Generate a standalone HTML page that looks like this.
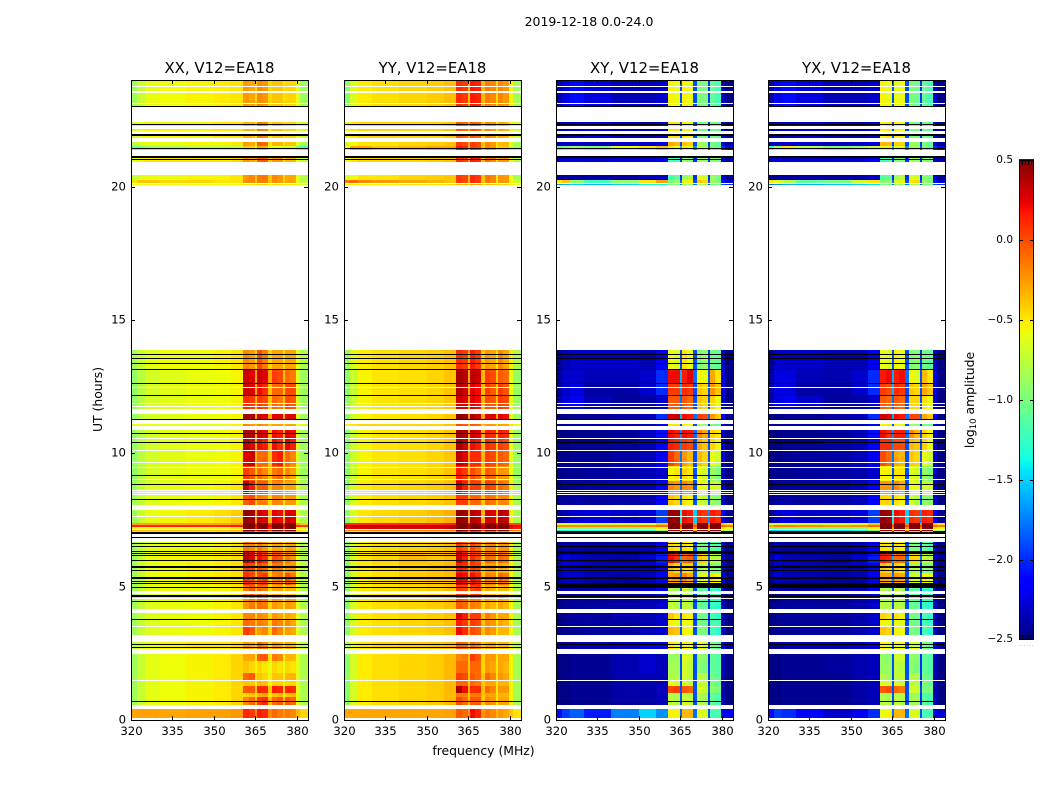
<!DOCTYPE html>
<html lang="en">
<head>
<meta charset="utf-8">
<title>2019-12-18 0.0-24.0</title>
<style>
html,body{margin:0;padding:0;background:#fff;width:1050px;height:800px;overflow:hidden}
svg{display:block}
text{font-family:"DejaVu Sans","Liberation Sans",sans-serif;fill:#000}
</style>
</head>
<body>
<svg id="fig" xmlns="http://www.w3.org/2000/svg" width="1050" height="800" viewBox="0 0 1050 800">
<rect x="0" y="0" width="1050" height="800" fill="#fff"/>
<text x="589" y="26" font-size="12.5" text-anchor="middle">2019-12-18 0.0-24.0</text>
<text x="483.5" y="755" font-size="12.4" text-anchor="middle">frequency (MHz)</text>
<text transform="translate(102,399.5) rotate(-90)" font-size="12.4" text-anchor="middle">UT (hours)</text>
<text transform="translate(974,400) rotate(-90)" font-size="12.4" text-anchor="middle">log<tspan font-size="8.5" dy="2">10</tspan><tspan dy="-2"> amplitude</tspan></text>
<g id="panels"></g>
<g id="cbar"></g>
</svg>
<script>
const panelTitles = ["XX, V12=EA18", "YY, V12=EA18", "XY, V12=EA18", "YX, V12=EA18"];
const xTicks = [320, 335, 350, 365, 380];
const yTicks = [0, 5, 10, 15, 20];
const cbarTicks = [0.5, 0.0, -0.5, -1.0, -1.5, -2.0, -2.5];

const freqEdges = [320,322,325,330,340,350,356,360.4,362.6,364.8,365.5,367.5,369.5,370.9,372.9,374.9,375.6,377.6,379.6,381,384];
const rowStart = [.09,.58,.88,1.03,1.29,1.48,1.78,2.23,2.68,3.17,3.5,3.8,4.1,4.66,5.08,5.53,5.9,6.35,6.84,7.07,7.15,7.25,7.31,7.37,8.07,8.45,8.97,9.53,10.13,10.54,11.03,11.25,11.67,12.2,12.63,13.16,20.05,20.15,20.25,20.93,21.38,21.53,21.82,23.0];
const rowEnd = [.43,.88,1.03,1.29,1.48,1.78,2.23,2.49,2.94,3.5,3.8,4.1,4.66,5.08,5.53,5.9,6.35,6.69,7.07,7.15,7.25,7.31,7.37,7.89,8.45,8.97,9.53,10.13,10.54,10.87,11.1,11.49,12.2,12.63,13.16,13.88,20.15,20.25,20.44,21.15,21.53,21.67,22.43,24];

const xxValues = [
[-.3,-.28,-.28,-.3,-.28,-.28,-.25,.12,.05,-.2,.15,.1,-.2,-.1,-.15,-.25,-.15,-.2,-.35,-.45],
[-.88,-.72,-.62,-.58,-.55,-.52,-.45,-.2,-.1,-.35,.05,.1,-.35,-.1,-.05,-.4,-.05,-.1,-.62,-.82],
[-.88,-.72,-.62,-.58,-.55,-.52,-.45,-.45,-.4,-.5,-.35,-.3,-.5,-.4,-.35,-.55,-.4,-.35,-.62,-.82],
[-.88,-.72,-.62,-.58,-.55,-.52,-.45,-.05,-.05,-.4,.12,.1,-.4,.15,.12,-.45,.12,.1,-.62,-.82],
[-.88,-.72,-.62,-.58,-.55,-.52,-.45,-.4,-.4,-.55,-.35,-.4,-.55,-.45,-.45,-.55,-.45,-.45,-.62,-.82],
[-.88,-.72,-.62,-.58,-.55,-.52,-.45,-.1,-.05,-.45,-.4,-.45,-.55,-.4,-.4,-.55,-.35,-.35,-.62,-.82],
[-.88,-.72,-.62,-.58,-.55,-.52,-.45,-.4,-.45,-.55,-.45,-.5,-.6,-.45,-.5,-.6,-.45,-.5,-.62,-.82],
[-.88,-.72,-.62,-.58,-.55,-.52,-.45,-.3,-.3,-.5,-.05,-.05,-.5,-.15,-.2,-.55,-.35,-.35,-.62,-.82],
[-.8,-.68,-.6,-.55,-.5,-.5,-.45,-.25,-.3,-.45,-.1,-.2,-.45,-.25,-.3,-.5,-.3,-.35,-.6,-.78],
[-.88,-.74,-.64,-.6,-.58,-.55,-.5,.05,-.05,-.4,-.25,-.2,-.45,-.1,-.2,-.5,-.25,-.3,-.62,-.82],
[-.88,-.74,-.64,-.6,-.58,-.55,-.5,-.1,-.15,-.4,-.15,-.2,-.45,-.15,-.2,-.5,-.2,-.3,-.62,-.82],
[-.88,-.74,-.64,-.6,-.58,-.55,-.5,-.2,-.2,-.45,-.2,-.25,-.45,-.25,-.3,-.5,-.3,-.35,-.62,-.82],
[-.88,-.74,-.64,-.6,-.58,-.55,-.5,-.25,-.15,-.4,-.1,-.15,-.45,-.25,-.3,-.5,-.25,-.3,-.62,-.82],
[-.88,-.74,-.64,-.6,-.58,-.55,-.5,-.15,-.05,-.35,-.1,-.15,-.45,-.3,-.3,-.5,-.35,-.35,-.62,-.82],
[-.88,-.72,-.6,-.58,-.55,-.52,-.48,.1,0,-.35,0,.05,-.4,-.2,-.15,-.45,0,-.15,-.62,-.82],
[-.88,-.72,-.6,-.58,-.55,-.52,-.48,.05,0,-.35,0,-.1,-.4,-.15,-.15,-.45,-.25,-.25,-.62,-.82],
[-.88,-.72,-.6,-.56,-.55,-.52,-.48,.35,.25,-.3,.2,.1,-.35,0,-.05,-.4,-.15,-.25,-.62,-.82],
[-.88,-.74,-.64,-.6,-.58,-.55,-.5,-.15,-.2,-.4,-.15,-.25,-.45,-.3,-.3,-.5,-.3,-.3,-.62,-.82],
[-.88,-.74,-.64,-.6,-.58,-.55,-.5,.05,0,-.4,-.1,-.1,-.45,-.2,-.2,-.45,-.15,-.2,-.62,-.82],
[-.35,-.35,-.35,-.35,-.35,-.35,-.3,.5,.5,.1,.5,.5,.1,.5,.5,.1,.5,.5,-.4,-.5],
[-.65,-.65,-.65,-.65,-.65,-.6,-.5,.5,.5,.1,.5,.5,.1,.5,.5,.1,.5,.5,-.6,-.7],
[.12,.12,.12,.12,.12,.12,.15,.5,.5,.2,.5,.5,.2,.5,.5,.2,.5,.5,.1,.05],
[-.3,-.3,-.3,-.3,-.3,-.3,-.25,.5,.5,.1,.5,.5,.1,.5,.5,.1,.5,.5,-.3,-.4],
[-.88,-.72,-.6,-.56,-.52,-.48,-.42,.45,.4,-.3,.3,.25,-.35,.25,.2,-.35,.3,.25,-.62,-.82],
[-.88,-.74,-.64,-.6,-.58,-.55,-.5,-.05,0,-.4,-.15,-.2,-.45,-.2,-.2,-.5,-.25,-.25,-.62,-.82],
[-.88,-.74,-.64,-.6,-.58,-.55,-.5,.35,.15,-.35,-.05,-.05,-.4,-.2,-.2,-.45,-.3,-.3,-.62,-.82],
[-.92,-.78,-.68,-.63,-.6,-.58,-.55,.05,-.05,-.4,-.1,-.2,-.4,-.15,-.1,-.45,-.2,-.3,-.66,-.88],
[-.92,-.78,-.68,-.63,-.6,-.58,-.55,.25,.3,-.35,-.1,-.1,-.4,.1,.15,-.4,-.1,-.2,-.66,-.88],
[-.92,-.78,-.68,-.63,-.6,-.58,-.55,.35,.25,-.3,.2,.15,-.35,.2,.1,-.4,.25,.15,-.66,-.88],
[-.92,-.78,-.68,-.63,-.6,-.58,-.55,.4,.35,-.3,.3,.25,-.35,.2,.15,-.35,.25,.2,-.66,-.88],
[-.6,-.6,-.6,-.6,-.6,-.6,-.55,-.2,-.25,-.4,-.2,-.25,-.4,-.3,-.3,-.5,-.3,-.3,-.6,-.65],
[-.92,-.78,-.68,-.63,-.6,-.58,-.55,.42,.38,-.3,.3,.25,-.3,.25,.25,-.35,.25,.25,-.66,-.88],
[-.92,-.78,-.68,-.63,-.6,-.58,-.55,.1,.05,-.35,.05,0,-.4,-.1,-.15,-.4,0,-.05,-.66,-.88],
[-.92,-.78,-.68,-.63,-.6,-.58,-.55,.3,.25,-.3,.2,.1,-.4,-.1,-.1,-.4,0,0,-.66,-.88],
[-.92,-.78,-.68,-.63,-.6,-.58,-.55,.3,.25,-.3,.3,.25,-.3,.05,0,-.4,-.1,-.15,-.66,-.88],
[-.85,-.72,-.62,-.58,-.58,-.55,-.5,-.2,-.25,-.45,0,-.15,-.45,-.3,-.3,-.5,-.3,-.3,-.62,-.82],
[-.6,-.6,-.6,-.6,-.58,-.58,-.55,-.5,-.5,-.55,-.45,-.45,-.55,-.5,-.5,-.55,-.5,-.5,-.6,-.65],
[-.5,-.4,-.4,-.45,-.45,-.5,-.5,-.2,-.2,-.4,-.15,-.15,-.4,-.2,-.25,-.45,-.3,-.3,-.6,-.75],
[-.75,-.65,-.6,-.6,-.55,-.55,-.5,-.25,-.2,-.4,-.15,-.15,-.4,-.2,-.25,-.45,-.3,-.3,-.62,-.8],
[-.6,-.55,-.5,-.5,-.5,-.5,-.45,-.25,-.3,-.4,-.05,-.05,-.4,-.25,-.25,-.5,-.35,-.35,-.6,-.75],
[-1.1,-1,-.9,-.85,-.8,-.8,-.8,-.4,-.45,-.6,-.3,-.35,-.6,-.6,-.6,-.7,-.7,-.7,-1,-1.2],
[-.75,-.65,-.6,-.6,-.55,-.55,-.5,-.25,-.3,-.5,-.05,-.1,-.5,-.35,-.35,-.5,-.4,-.4,-.62,-.8],
[-.7,-.6,-.55,-.55,-.55,-.5,-.5,-.35,-.35,-.5,-.15,-.2,-.5,-.4,-.4,-.5,-.45,-.45,-.6,-.72],
[-.88,-.72,-.6,-.58,-.55,-.52,-.5,-.25,-.3,-.45,-.2,-.25,-.45,-.4,-.4,-.5,-.45,-.45,-.62,-.88]
];

const yyValues = [
[-.3,-.3,-.3,-.3,-.3,-.3,-.28,-.05,-.1,-.25,.2,.12,-.25,-.15,-.2,-.35,-.25,-.3,-.4,-.5],
[-.95,-.68,-.52,-.48,-.45,-.42,-.36,0,-.1,-.35,-.05,-.05,-.4,-.2,-.25,-.5,-.3,-.3,-.55,-.85],
[-.95,-.68,-.52,-.48,-.45,-.42,-.36,-.15,-.2,-.4,-.15,-.15,-.4,-.3,-.3,-.5,-.35,-.35,-.55,-.85],
[-.95,-.68,-.52,-.48,-.45,-.42,-.36,.4,.2,-.35,.1,.1,-.4,-.1,-.2,-.5,-.25,-.25,-.55,-.85],
[-.95,-.68,-.52,-.48,-.45,-.42,-.36,-.1,-.1,-.4,-.1,-.15,-.4,-.3,-.3,-.5,-.35,-.35,-.55,-.85],
[-.95,-.68,-.52,-.48,-.45,-.42,-.36,.05,0,-.4,-.05,-.1,-.4,-.1,-.2,-.5,-.25,-.3,-.55,-.85],
[-.95,-.68,-.52,-.48,-.45,-.42,-.36,-.1,-.1,-.4,-.1,-.1,-.45,-.25,-.3,-.5,-.3,-.35,-.55,-.85],
[-.95,-.68,-.52,-.48,-.45,-.42,-.36,-.2,-.15,-.4,.05,-.05,-.45,-.25,-.25,-.5,-.3,-.3,-.55,-.85],
[-.85,-.62,-.5,-.45,-.42,-.4,-.36,-.05,-.1,-.4,-.1,-.2,-.4,-.3,-.3,-.5,-.35,-.35,-.55,-.8],
[-.95,-.68,-.52,-.48,-.45,-.42,-.38,.2,.1,-.3,0,-.05,-.4,-.2,-.25,-.5,-.35,-.35,-.55,-.85],
[-.95,-.68,-.52,-.48,-.45,-.42,-.38,.15,.05,-.35,.05,0,-.4,-.2,-.25,-.5,-.3,-.35,-.55,-.85],
[-.95,-.68,-.52,-.48,-.45,-.42,-.38,.25,.15,-.3,.05,.05,-.4,-.15,-.25,-.5,-.3,-.3,-.55,-.85],
[-.95,-.68,-.52,-.48,-.45,-.42,-.38,-.05,-.1,-.4,-.15,-.2,-.45,-.3,-.35,-.5,-.3,-.35,-.55,-.85],
[-.95,-.68,-.52,-.48,-.45,-.42,-.38,.05,0,-.4,0,.05,-.4,-.3,-.35,-.5,-.35,-.35,-.55,-.85],
[-.95,-.68,-.52,-.48,-.42,-.4,-.36,.25,.2,-.3,.2,.1,-.4,-.15,-.2,-.5,-.1,-.15,-.55,-.85],
[-.95,-.68,-.52,-.48,-.42,-.4,-.36,.15,.1,-.3,.05,0,-.4,-.25,-.25,-.5,-.3,-.35,-.55,-.85],
[-.95,-.66,-.5,-.45,-.36,-.4,-.36,.3,.15,-.3,.1,0,-.4,-.1,-.15,-.45,-.1,-.15,-.55,-.85],
[-.95,-.68,-.52,-.48,-.45,-.42,-.38,.05,-.05,-.35,0,-.1,-.4,-.2,-.2,-.5,-.25,-.25,-.55,-.85],
[-.95,-.68,-.52,-.48,-.45,-.42,-.38,.1,0,-.35,.05,-.05,-.4,-.1,-.15,-.45,-.2,-.25,-.55,-.85],
[-.2,-.2,-.2,-.2,-.2,-.18,-.15,.5,.5,.1,.5,.5,.1,.5,.5,.1,.5,.5,-.1,-.2],
[.25,.25,.25,.25,.25,.25,.3,.5,.5,.3,.5,.5,.3,.5,.5,.3,.5,.5,.2,.15],
[.3,.3,.3,.3,.3,.3,.35,.5,.5,.35,.5,.5,.35,.5,.5,.35,.5,.5,.25,.2],
[.1,.1,.1,.1,.1,.1,.15,.5,.5,.2,.5,.5,.2,.5,.5,.2,.5,.5,.05,0],
[-.95,-.68,-.5,-.46,-.42,-.38,-.32,.45,.42,-.3,.35,.3,-.35,.3,.25,-.35,.35,.3,-.55,-.85],
[-.95,-.68,-.52,-.48,-.45,-.42,-.38,.05,.05,-.35,-.1,-.1,-.4,-.1,-.15,-.4,-.2,-.2,-.55,-.85],
[-.95,-.68,-.52,-.48,-.45,-.42,-.38,.3,.15,-.3,.05,.05,-.35,.05,0,-.4,-.1,-.15,-.55,-.85],
[-.95,-.72,-.55,-.5,-.48,-.45,-.4,.15,.05,-.35,0,-.1,-.4,-.05,-.1,-.4,-.25,-.25,-.6,-.9],
[-.95,-.72,-.55,-.5,-.48,-.45,-.4,.35,.25,-.3,.1,.1,-.35,.05,0,-.4,-.05,-.1,-.6,-.9],
[-.95,-.72,-.55,-.5,-.48,-.45,-.4,.4,.3,-.3,.2,.15,-.35,.1,.05,-.4,.05,0,-.6,-.9],
[-.95,-.72,-.55,-.5,-.48,-.45,-.4,.42,.38,-.3,.3,.25,-.3,.15,.1,-.4,.15,.1,-.6,-.9],
[-.55,-.5,-.45,-.45,-.45,-.45,-.4,0,-.05,-.4,-.05,-.1,-.4,-.25,-.25,-.45,-.3,-.3,-.5,-.6],
[-.95,-.72,-.55,-.5,-.48,-.45,-.4,.48,.42,-.25,.38,.3,-.3,.25,.25,-.3,.25,.2,-.6,-.9],
[-.95,-.72,-.55,-.5,-.48,-.45,-.4,.3,.25,-.3,.25,.2,-.35,0,-.05,-.4,.05,0,-.6,-.9],
[-.95,-.72,-.55,-.5,-.48,-.45,-.4,.38,.3,-.3,.25,.2,-.35,.05,-.05,-.4,.05,-.05,-.6,-.9],
[-.95,-.72,-.55,-.5,-.48,-.45,-.4,.4,.35,-.3,.35,.3,-.35,.05,0,-.4,-.05,-.1,-.6,-.9],
[-.9,-.66,-.52,-.48,-.45,-.42,-.38,.1,.05,-.35,.15,.05,-.4,-.25,-.3,-.5,-.2,-.3,-.55,-.82],
[-.55,-.55,-.55,-.55,-.5,-.5,-.45,-.35,-.35,-.45,-.3,-.3,-.45,-.4,-.4,-.5,-.45,-.45,-.55,-.6],
[-.15,-.1,-.2,-.25,-.3,-.35,-.4,.05,0,-.35,.1,.05,-.4,-.15,-.2,-.5,-.25,-.25,-.55,-.7],
[-.7,-.6,-.5,-.5,-.45,-.42,-.4,.05,0,-.35,.1,.05,-.4,-.15,-.2,-.5,-.25,-.25,-.6,-.85],
[-.6,-.5,-.45,-.45,-.45,-.42,-.4,.1,.05,-.35,.15,.1,-.4,-.1,-.2,-.45,-.25,-.25,-.6,-.8],
[-.6,-.3,-.3,-.4,-.35,-.3,-.3,.15,.1,-.35,.05,0,-.4,-.2,-.25,-.5,-.4,-.4,-.7,-.9],
[-.7,-.6,-.5,-.5,-.45,-.42,-.4,.05,0,-.35,.05,0,-.4,-.2,-.25,-.5,-.35,-.35,-.65,-.85],
[-.55,-.5,-.45,-.45,-.45,-.45,-.4,-.05,-.1,-.35,-.05,-.1,-.4,-.2,-.25,-.5,-.3,-.35,-.55,-.7],
[-.95,-.66,-.52,-.48,-.45,-.42,-.38,.1,.05,-.35,.15,.12,-.35,-.15,-.2,-.45,-.2,-.25,-.55,-.85]
];

const xyValues = [
[-2.1,-1.95,-1.85,-2.05,-1.75,-1.5,-1.7,-.55,-.55,-1.8,-.35,-.35,-1.8,-.65,-.65,-1.9,-1.2,-1.2,-2.2,-2.2],
[-2.48,-2.48,-2.45,-2.45,-2.4,-2.4,-2.35,-.75,-.8,-1.9,-.7,-.75,-1.9,-.8,-.85,-2,-1.1,-1.2,-2.35,-2.48],
[-2.48,-2.48,-2.45,-2.45,-2.4,-2.4,-2.35,-.8,-.85,-1.9,-.75,-.8,-1.9,-.85,-.9,-2,-1.1,-1.2,-2.35,-2.48],
[-2.48,-2.48,-2.45,-2.45,-2.4,-2.38,-2.35,0,.05,-1.9,-.05,-.1,-1.9,-.65,-.7,-1.9,-.95,-1,-2.35,-2.48],
[-2.48,-2.48,-2.45,-2.45,-2.4,-2.38,-2.35,-.6,-.7,-1.9,-.7,-.75,-1.9,-.7,-.75,-2,-1,-1.1,-2.35,-2.48],
[-2.48,-2.48,-2.45,-2.45,-2.38,-2.35,-2.35,-.8,-.8,-1.9,-.7,-.75,-1.9,-.75,-.8,-2,-1.05,-1.1,-2.35,-2.48],
[-2.48,-2.48,-2.45,-2.45,-2.38,-2.3,-2.35,-.85,-.85,-1.9,-.7,-.75,-1.9,-.95,-1,-2,-1.1,-1.15,-2.35,-2.48],
[-2.48,-2.48,-2.45,-2.45,-2.38,-2.3,-2.35,-.9,-.9,-1.9,-.65,-.7,-1.9,-.9,-.95,-2,-1.1,-1.15,-2.35,-2.48],
[-2.4,-2.4,-2.35,-2.35,-2.3,-2.25,-2.2,-.5,-.6,-1.9,-.55,-.6,-1.9,-.6,-.7,-2,-1,-1.1,-2.2,-2.4],
[-2.48,-2.45,-2.45,-2.42,-2.4,-2.35,-2.3,-.35,-.4,-1.9,-.55,-.6,-1.9,-1,-1,-2,-1.2,-1.3,-2.35,-2.48],
[-2.48,-2.45,-2.42,-2.4,-2.4,-2.35,-2.3,-.55,-.6,-1.8,-.6,-.6,-1.9,-1,-1.05,-2,-1.2,-1.2,-2.35,-2.48],
[-2.48,-2.45,-2.42,-2.42,-2.35,-2.35,-2.3,-.4,-.5,-1.9,-.5,-.55,-1.9,-1,-1.05,-2,-1.2,-1.3,-2.35,-2.48],
[-2.48,-2.45,-2.42,-2.42,-2.4,-2.35,-2.3,-.75,-.8,-1.9,-.75,-.8,-1.9,-1.05,-1.1,-2,-1.25,-1.3,-2.35,-2.48],
[-2.45,-2.4,-2.4,-2.4,-2.35,-2.3,-2.2,-.8,-.85,-1.9,-.7,-.85,-1.9,-1.1,-1.1,-2,-1.2,-1.3,-2.35,-2.48],
[-2.42,-2.3,-2.3,-2.38,-2.4,-2.35,-2.2,-.3,-.25,-1.8,-.2,-.3,-1.9,-.7,-.6,-1.9,-.5,-.6,-2.3,-2.45],
[-2.42,-2.3,-2.3,-2.38,-2.35,-2.35,-2.2,-.35,-.45,-1.9,-.45,-.45,-1.9,-.9,-.8,-2,-1,-1,-2.3,-2.45],
[-2.4,-2.25,-2.3,-2.38,-2.4,-2.3,-2.05,.2,.1,-1.6,-.1,-.05,-1.8,-.4,-.45,-1.8,-.75,-.8,-2.3,-2.45],
[-2.45,-2.4,-2.4,-2.42,-2.4,-2.35,-2.2,-.45,-.5,-1.9,-.5,-.55,-1.9,-1,-1,-2,-1.1,-1.2,-2.35,-2.45],
[-2.45,-2.42,-2.42,-2.42,-2.4,-2.38,-2.3,-.5,-.5,-1.9,-.6,-.6,-1.9,-1,-1,-2,-1.1,-1.1,-2.35,-2.45],
[-1.4,-1.4,-1.4,-1.4,-1.4,-1.3,-.9,.5,.5,-.3,.5,.5,-.3,.5,.5,-.3,.5,.5,-.8,-.9],
[-1,-1,-1,-1,-1,-.9,-.6,.5,.5,-.2,.5,.5,-.2,.5,.5,-.2,.5,.5,-.5,-.6],
[-.2,-.2,-.2,-.2,-.2,-.15,-.1,.5,.5,0,.5,.5,0,.5,.5,0,.5,.5,-.1,-.15],
[-.65,-.65,-.65,-.65,-.65,-.6,-.4,.5,.5,-.2,.5,.5,-.2,.5,.5,-.2,.5,.5,-.4,-.5],
[-2.45,-2.35,-2.28,-2.25,-2.3,-2.25,-1.95,.45,.42,-1.4,.2,.15,-1.5,.1,.05,-1.7,.15,.1,-2.2,-2.45],
[-2.45,-2.42,-2.4,-2.42,-2.4,-2.35,-2.15,-.4,-.45,-1.8,-.5,-.55,-1.9,-.7,-.75,-1.9,-.9,-.95,-2.3,-2.48],
[-2.48,-2.45,-2.42,-2.42,-2.4,-2.35,-2.15,-.2,-.25,-1.8,-.2,-.25,-1.9,-.55,-.6,-1.9,-.65,-.7,-2.3,-2.48],
[-2.48,-2.45,-2.45,-2.42,-2.4,-2.35,-2.3,-.55,-.5,-1.9,-.45,-.5,-1.9,-.6,-.7,-1.9,-.9,-1,-2.35,-2.48],
[-2.48,-2.48,-2.45,-2.45,-2.4,-2.35,-2.2,.05,-.1,-1.8,-.25,-.35,-1.9,-.35,-.45,-1.9,-.6,-.7,-2.3,-2.48],
[-2.48,-2.48,-2.45,-2.45,-2.42,-2.35,-2.15,.15,.1,-1.7,.05,0,-1.9,-.3,-.4,-1.9,-.45,-.55,-2.3,-2.48],
[-2.48,-2.48,-2.45,-2.45,-2.42,-2.3,-2.1,.2,.15,-1.7,.2,.15,-1.8,-.2,-.3,-1.9,-.45,-.5,-2.3,-2.48],
[-2.4,-2.4,-2.4,-2.35,-2.35,-2.3,-2.15,-.5,-.5,-1.9,-.55,-.6,-1.9,-.8,-.9,-2,-1,-1.1,-2.25,-2.4],
[-2.48,-2.48,-2.45,-2.45,-2.4,-2.35,-2,.3,.3,-1.6,.2,.15,-1.8,.05,0,-1.8,-.25,-.4,-2.2,-2.48],
[-2.4,-2.25,-2.2,-2.35,-2.42,-2.4,-2.3,-.05,-.05,-1.8,-.05,-.1,-1.9,-.4,-.45,-1.9,-.45,-.6,-2.3,-2.48],
[-2.42,-2.3,-2.25,-2.4,-2.4,-2.3,-2,.05,.05,-1.6,.1,.05,-1.9,-.4,-.45,-1.9,-.25,-.4,-2.25,-2.48],
[-2.45,-2.3,-2.3,-2.35,-2.35,-2.3,-2,.2,.2,-1.6,.15,.25,-1.8,-.55,-.6,-1.9,-.3,-.5,-2.25,-2.48],
[-2.45,-2.35,-2.3,-2.3,-2.3,-2.35,-2.2,-.6,-.65,-1.9,-.5,-.6,-1.9,-1,-.9,-2,-1.05,-1.1,-2.3,-2.48],
[-1.7,-1.6,-1.5,-1.6,-1.5,-1.4,-1.4,-1,-1,-1.8,-.9,-.9,-1.8,-.8,-.85,-1.9,-1,-1,-1.9,-2],
[-.5,-.4,-.9,-1.2,-.9,-.5,-.3,-1,-.9,-1.8,-.6,-.55,-1.9,-.4,-.45,-1.9,-.9,-1,-2.1,-2.3],
[-2.45,-2.42,-2.4,-2.4,-2.4,-2.35,-2.3,-1.2,-1.1,-2,-.9,-.8,-2,-.6,-.7,-2,-.9,-1,-2.3,-2.45],
[-2.3,-2.25,-2.25,-2.3,-2.25,-2.25,-2.2,-1.2,-1.2,-2,-.9,-1,-2,-.85,-.9,-2,-.95,-1,-2.3,-2.4],
[-1.2,-1,-.9,-1,-.6,-.5,-.4,-.5,-.6,-1.6,-.55,-.65,-1.7,-.8,-.85,-1.9,-1,-1.1,-2,-2.1],
[-2.4,-2.3,-2.3,-2.35,-2.3,-2.3,-2.25,-.3,-.35,-1.9,-.4,-.45,-1.9,-.85,-.9,-2,-1,-1.1,-2.3,-2.45],
[-2.42,-2.38,-2.3,-2.25,-2.35,-2.4,-2.3,-.5,-.5,-1.9,-.55,-.6,-1.9,-1,-1,-2,-1.05,-1.1,-2.3,-2.45],
[-2.4,-2.25,-2.1,-2.25,-2.35,-2.35,-2.3,-.55,-.6,-1.9,-.55,-.6,-1.9,-1,-1,-2,-1.1,-1.2,-2.3,-2.48]
];

const yxValues = [
[-2.1,-1.95,-2,-2.15,-2.3,-2.2,-2,-.6,-.55,-1.8,-.35,-.35,-1.8,-.7,-.65,-1.9,-1.2,-1.2,-2.2,-2.3],
[-2.48,-2.48,-2.45,-2.45,-2.45,-2.4,-2.35,-.8,-.8,-1.9,-.75,-.8,-1.9,-.85,-.85,-2,-1.1,-1.2,-2.35,-2.48],
[-2.48,-2.48,-2.45,-2.45,-2.45,-2.4,-2.35,-.85,-.85,-1.9,-.8,-.8,-1.9,-.9,-.9,-2,-1.15,-1.2,-2.35,-2.48],
[-2.48,-2.48,-2.45,-2.45,-2.45,-2.4,-2.35,-.05,0,-1.9,-.1,-.15,-1.9,-.7,-.7,-1.9,-1,-1,-2.35,-2.48],
[-2.48,-2.48,-2.45,-2.45,-2.45,-2.4,-2.35,-.65,-.7,-1.9,-.7,-.75,-1.9,-.75,-.8,-2,-1,-1.1,-2.35,-2.48],
[-2.48,-2.48,-2.45,-2.45,-2.45,-2.38,-2.35,-.8,-.85,-1.9,-.75,-.75,-1.9,-.8,-.8,-2,-1.05,-1.1,-2.35,-2.48],
[-2.48,-2.48,-2.45,-2.45,-2.42,-2.38,-2.35,-.9,-.9,-1.9,-.75,-.8,-1.9,-.95,-1,-2,-1.1,-1.15,-2.35,-2.48],
[-2.48,-2.48,-2.45,-2.45,-2.42,-2.38,-2.35,-.9,-.95,-1.9,-.7,-.7,-1.9,-.9,-.95,-2,-1.1,-1.15,-2.35,-2.48],
[-2.4,-2.4,-2.35,-2.35,-2.35,-2.3,-2.2,-.55,-.6,-1.9,-.6,-.6,-1.9,-.65,-.7,-2,-1,-1.1,-2.2,-2.4],
[-2.48,-2.45,-2.45,-2.42,-2.42,-2.38,-2.3,-.4,-.45,-1.9,-.55,-.6,-1.9,-1,-1.05,-2,-1.2,-1.3,-2.35,-2.48],
[-2.48,-2.45,-2.42,-2.42,-2.42,-2.38,-2.3,-.55,-.6,-1.8,-.6,-.65,-1.9,-1,-1.05,-2,-1.2,-1.25,-2.35,-2.48],
[-2.48,-2.45,-2.42,-2.42,-2.4,-2.38,-2.3,-.45,-.5,-1.9,-.5,-.55,-1.9,-1,-1.05,-2,-1.2,-1.3,-2.35,-2.48],
[-2.48,-2.45,-2.42,-2.42,-2.42,-2.38,-2.3,-.8,-.8,-1.9,-.75,-.8,-1.9,-1.05,-1.1,-2,-1.25,-1.3,-2.35,-2.48],
[-2.45,-2.42,-2.4,-2.42,-2.4,-2.35,-2.2,-.8,-.85,-1.9,-.75,-.85,-1.9,-1.1,-1.1,-2,-1.25,-1.3,-2.35,-2.48],
[-2.42,-2.3,-2.35,-2.38,-2.42,-2.38,-2.2,-.3,-.3,-1.8,-.25,-.3,-1.9,-.7,-.65,-1.9,-.55,-.6,-2.3,-2.45],
[-2.42,-2.3,-2.35,-2.38,-2.38,-2.35,-2.2,-.4,-.45,-1.9,-.45,-.5,-1.9,-.9,-.85,-2,-1,-1,-2.3,-2.45],
[-2.4,-2.25,-2.35,-2.38,-2.42,-2.3,-2.05,.15,.1,-1.6,-.1,-.1,-1.8,-.45,-.45,-1.8,-.75,-.8,-2.3,-2.45],
[-2.45,-2.4,-2.42,-2.42,-2.42,-2.38,-2.2,-.5,-.5,-1.9,-.5,-.55,-1.9,-1,-1,-2,-1.1,-1.2,-2.35,-2.45],
[-2.45,-2.42,-2.42,-2.42,-2.42,-2.38,-2.3,-.5,-.55,-1.9,-.6,-.6,-1.9,-1,-1,-2,-1.1,-1.15,-2.35,-2.45],
[-1.5,-1.5,-1.45,-1.45,-1.45,-1.4,-1,.5,.5,-.3,.5,.5,-.3,.5,.5,-.3,.5,.5,-.8,-.9],
[-1.05,-1,-1,-1,-1,-.95,-.6,.5,.5,-.2,.5,.5,-.2,.5,.5,-.2,.5,.5,-.5,-.6],
[-.3,-.15,-.15,-.2,-.25,-.2,-.1,.5,.5,0,.5,.5,0,.5,.5,0,.5,.5,-.1,-.15],
[-.7,-.65,-.65,-.65,-.65,-.6,-.4,.5,.5,-.2,.5,.5,-.2,.5,.5,-.2,.5,.5,-.4,-.5],
[-2.45,-2.32,-2.25,-2.3,-2.3,-2.25,-1.95,.45,.4,-1.4,.2,.15,-1.5,.1,.05,-1.7,.15,.1,-2.2,-2.45],
[-2.45,-2.42,-2.4,-2.42,-2.4,-2.35,-2.15,-.45,-.45,-1.8,-.5,-.55,-1.9,-.7,-.8,-1.9,-.95,-.95,-2.3,-2.48],
[-2.48,-2.45,-2.42,-2.42,-2.42,-2.35,-2.15,-.25,-.25,-1.8,-.2,-.3,-1.9,-.6,-.6,-1.9,-.7,-.7,-2.3,-2.48],
[-2.48,-2.45,-2.45,-2.42,-2.4,-2.38,-2.3,-.55,-.55,-1.9,-.5,-.5,-1.9,-.65,-.7,-1.9,-.9,-1,-2.35,-2.48],
[-2.48,-2.48,-2.45,-2.42,-2.4,-2.35,-2.2,0,-.1,-1.8,-.3,-.35,-1.9,-.4,-.45,-1.9,-.6,-.7,-2.3,-2.48],
[-2.48,-2.48,-2.45,-2.45,-2.4,-2.35,-2.15,.1,.1,-1.7,0,0,-1.9,-.35,-.4,-1.9,-.45,-.6,-2.3,-2.48],
[-2.48,-2.48,-2.45,-2.45,-2.42,-2.35,-2.1,.2,.1,-1.7,.15,.15,-1.8,-.2,-.35,-1.9,-.45,-.55,-2.3,-2.48],
[-2.4,-2.4,-2.38,-2.38,-2.35,-2.3,-2.15,-.55,-.5,-1.9,-.55,-.6,-1.9,-.85,-.9,-2,-1,-1.1,-2.25,-2.4],
[-2.48,-2.48,-2.45,-2.45,-2.4,-2.35,-2,.3,.25,-1.6,.2,.15,-1.8,0,0,-1.8,-.3,-.4,-2.2,-2.48],
[-2.4,-2.25,-2.2,-2.3,-2.42,-2.4,-2.3,-.05,-.1,-1.8,-.05,-.1,-1.9,-.45,-.45,-1.9,-.5,-.6,-2.3,-2.48],
[-2.4,-2.25,-2.25,-2.4,-2.4,-2.3,-2,.05,0,-1.6,.1,.05,-1.9,-.4,-.45,-1.9,-.3,-.4,-2.25,-2.48],
[-2.42,-2.25,-2.25,-2.35,-2.38,-2.3,-2,.15,.2,-1.6,.15,.2,-1.8,-.55,-.65,-1.9,-.35,-.5,-2.25,-2.48],
[-2.45,-2.3,-2.3,-2.3,-2.35,-2.35,-2.2,-.6,-.65,-1.9,-.55,-.6,-1.9,-1,-.95,-2,-1.05,-1.1,-2.3,-2.48],
[-1.8,-1.7,-1.6,-1.6,-1.55,-1.5,-1.45,-1,-1,-1.8,-.95,-.9,-1.8,-.85,-.85,-1.9,-1,-1,-1.9,-2],
[-.5,-.6,-.8,-1.1,-1,-.7,-.5,-1,-.9,-1.8,-.65,-.6,-1.9,-.5,-.45,-1.9,-.9,-1,-2.1,-2.3],
[-2.45,-2.42,-2.4,-2.4,-2.42,-2.38,-2.3,-1.15,-1.1,-2,-.85,-.8,-2,-.65,-.7,-2,-.95,-1,-2.3,-2.45],
[-2.3,-2.25,-2.28,-2.28,-2.28,-2.28,-2.2,-1.2,-1.15,-2,-.95,-1,-2,-.85,-.9,-2,-.95,-1,-2.3,-2.4],
[-1.3,-.9,-.5,-.8,-1,-.9,-.7,-.55,-.6,-1.6,-.6,-.65,-1.7,-.85,-.85,-1.9,-1,-1.1,-2,-2.1],
[-2.4,-2.3,-2.28,-2.3,-2.35,-2.3,-2.25,-.35,-.35,-1.9,-.45,-.45,-1.9,-.85,-.9,-2,-1,-1.1,-2.3,-2.45],
[-2.42,-2.38,-2.35,-2.28,-2.38,-2.4,-2.3,-.55,-.5,-1.9,-.55,-.6,-1.9,-1,-1,-2,-1.05,-1.1,-2.3,-2.45],
[-2.4,-2.2,-2.1,-2.25,-2.35,-2.35,-2.3,-.55,-.6,-1.9,-.6,-.6,-1.9,-1,-1.05,-2,-1.1,-1.2,-2.3,-2.48]
];

const gapStart = [1.47,3.48,4.02,4.54,4.74,6.88,7.12,7.6,8.44,8.51,8.59,9.0,9.44,9.62,10.1,10.52,11.76,11.84,12.44,13.53,20.09,21.98,22.16,23.09,23.53,23.72];
const gapEnd = [1.51,3.53,4.18,4.57,4.85,7.02,7.16,7.64,8.48,8.55,8.63,9.04,9.48,9.66,10.14,10.58,11.79,11.88,12.48,13.57,20.15,22.09,22.28,23.13,23.57,23.76];
const flagHours = [.73,2.73,2.86,3.79,4.48,4.65,4.68,5.0,5.14,5.23,5.31,5.38,5.64,5.72,5.79,6.0,6.19,6.26,6.35,6.54,6.62,6.85,6.88,7.02,7.04,8.29,8.85,9.19,10.41,10.76,11.28,12.18,12.63,13.16,13.38,13.56,13.74,21.05,21.1,21.15,21.45,21.92,21.96,22.35,23.02];
const crossFlagHours = [5.03,5.06,5.09,6.28,6.31,6.34];

const panelValues = [xxValues, yyValues, xyValues, yxValues];
const panelLefts = [131, 344, 556, 768];
const panelWidth = 177;
const plotTop = 80;
const plotBottom = 720;
const NS = 'http://www.w3.org/2000/svg';

function xScale(freq, left) { return left + (freq - 320) * panelWidth / 64; }
function yScale(hour) { return plotBottom - hour * (plotBottom - plotTop) / 24; }
function cbarScale(v) { return 640 - (v + 2.5) * 480 / 3; }

function clamp01(x) { return Math.max(0, Math.min(1, x)); }
function jet(v) {
  const n = clamp01((v + 2.5) / 3);
  let r, g, b;
  r = n < .35 ? 0 : n < .66 ? (n - .35) / .31 : n < .89 ? 1 : 1 - .5 * (n - .89) / .11;
  g = n < .125 ? 0 : n < .375 ? (n - .125) / .25 : n < .64 ? 1 : n < .91 ? 1 - (n - .64) / .27 : 0;
  b = n < .11 ? .5 + .5 * n / .11 : n < .34 ? 1 : n < .65 ? 1 - (n - .34) / .31 : 0;
  return 'rgb(' + Math.round(r * 255) + ',' + Math.round(g * 255) + ',' + Math.round(b * 255) + ')';
}
function make(tag, attrs, parent) {
  const el = document.createElementNS(NS, tag);
  for (const k in attrs) el.setAttribute(k, attrs[k]);
  parent.appendChild(el);
  return el;
}

const panelsRoot = document.getElementById('panels');
panelLefts.forEach(function (left, p) {
  const right = left + panelWidth;
  const g = make('g', {}, panelsRoot);
  
  
  const cells = make('g', { 'shape-rendering': 'crispEdges' }, g);
  
  
  panelValues[p].forEach(function (row, r) {
    const y0 = Math.round(yScale(rowEnd[r]));
    const y1 = Math.round(yScale(rowStart[r]));
    row.forEach(function (value, c) {
      const x0 = Math.round(xScale(freqEdges[c], left));
      const x1 = Math.round(xScale(freqEdges[c + 1], left));
      const cell = make('rect', { x: x0, y: y0, width: x1 - x0, height: Math.max(1, y1 - y0), fill: jet(value) }, cells);
      
      
    });
  });
  gapStart.forEach(function (s, i) {
    const y0 = Math.round(yScale(gapEnd[i]));
    const y1 = Math.round(yScale(s));
    const gap = make('rect', { x: left, y: y0, width: panelWidth, height: Math.max(1, y1 - y0), fill: '#fff', 'shape-rendering': 'crispEdges' }, g);
    
    
  });
  const flags = p >= 2 ? flagHours.concat(crossFlagHours) : flagHours;
  flags.forEach(function (h) {
    const flag = make('rect', { x: left, y: Math.round(yScale(h)), width: panelWidth, height: 1, fill: '#000', 'shape-rendering': 'crispEdges' }, g);
    
    
  });
  const frame = make('rect', { x: left + .5, y: plotTop + .5, width: panelWidth, height: plotBottom - plotTop, fill: 'none', stroke: '#000', 'stroke-width': 1, 'shape-rendering': 'crispEdges' }, g);
  
  
  xTicks.forEach(function (t) {
    const x = Math.round(xScale(t, left)) + .5;
    const t1 = make('line', { x1: x, x2: x, y1: plotBottom, y2: plotBottom - 4, stroke: '#000', 'stroke-width': 1 }, g);
    
    
    const t2 = make('line', { x1: x, x2: x, y1: plotTop, y2: plotTop + 4, stroke: '#000', 'stroke-width': 1 }, g);
    
    
    const label = make('text', { x: x, y: 735, 'font-size': 11.7, 'text-anchor': 'middle' }, g);
    
    
    label.textContent = t;
  });
  yTicks.forEach(function (t) {
    const y = Math.round(yScale(t)) + .5;
    const t1 = make('line', { x1: left, x2: left + 4, y1: y, y2: y, stroke: '#000', 'stroke-width': 1 }, g);
    
    
    const t2 = make('line', { x1: right, x2: right - 4, y1: y, y2: y, stroke: '#000', 'stroke-width': 1 }, g);
    
    
    const label = make('text', { x: left - 5, y: y + 3, 'font-size': 11.7, 'text-anchor': 'end' }, g);
    
    
    label.textContent = t;
  });
  const title = make('text', { x: left + panelWidth / 2, y: 73, 'font-size': 14.9, 'text-anchor': 'middle' }, g);
  
  
  title.textContent = panelTitles[p];
});

const cbar = document.getElementById('cbar');
const cbarLeft = 1019, cbarWidth = 15;
for (let v = -2.5; v < 0.5; v += 0.0125) {
  const y0 = Math.floor(cbarScale(v + 0.0125));
  const band = make('rect', { x: cbarLeft, y: y0, width: cbarWidth, height: 3, fill: jet(v), 'shape-rendering': 'crispEdges' }, cbar);
  
  
}
const cleanWhite = make('rect', { x: cbarLeft, y: 640, width: cbarWidth, height: 3, fill: '#fff' }, cbar);


const cbarFrame = make('rect', { x: cbarLeft + .5, y: 160.5, width: cbarWidth - 1, height: 479, fill: 'none', stroke: '#000', 'stroke-width': 1, 'shape-rendering': 'crispEdges' }, cbar);


cbarTicks.forEach(function (t) {
  const y = Math.min(639.5, Math.round(cbarScale(t)) + .5);
  const a = make('line', { x1: cbarLeft, x2: cbarLeft + 4, y1: y, y2: y, stroke: '#000' }, cbar);
  
  
  const b = make('line', { x1: cbarLeft + cbarWidth, x2: cbarLeft + cbarWidth - 4, y1: y, y2: y, stroke: '#000' }, cbar);
  
  
  const label = make('text', { x: 1013, y: y + 2.5, 'font-size': 10.5, 'text-anchor': 'end' }, cbar);
  
  
  label.textContent = t.toFixed(1).replace('-', '\u2212');
});
[3, 6, 9, 12].forEach(function (dx) {
  const top = make('line', { x1: cbarLeft + dx + .5, x2: cbarLeft + dx + .5, y1: 160, y2: 165, stroke: '#000' }, cbar);
  
  
  const bot = make('line', { x1: cbarLeft + dx + .5, x2: cbarLeft + dx + .5, y1: 635, y2: 640, stroke: '#000' }, cbar);
  
  
});
const dots = make('text', { x: 1026.5, y: 646, 'font-size': 5, 'text-anchor': 'middle', style: 'fill:#777;letter-spacing:1px' }, cbar);


dots.textContent = '......';
</script>
</body>
</html>
